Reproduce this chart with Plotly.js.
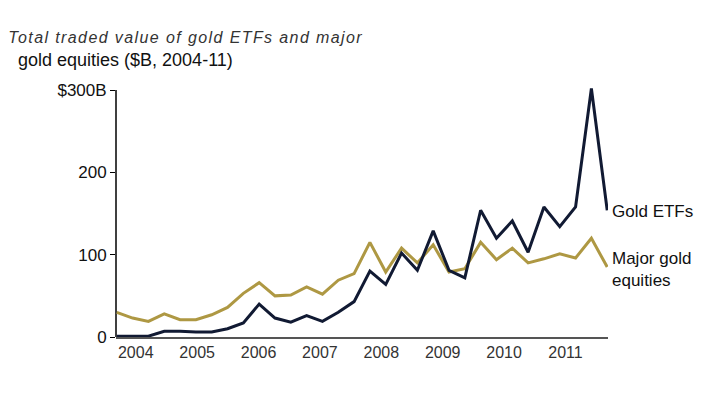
<!DOCTYPE html>
<html>
<head>
<meta charset="utf-8">
<script src="https://cdn.plot.ly/plotly-3.0.1.min.js"></script>
<style>
html,body{margin:0;padding:0;background:#fff;}
#chart{width:723px;height:395px;}
</style>
</head>
<body>
<div id="chart"></div>
<script>
// Quarterly data, 2004 Q1 - 2011 Q4 ($B)
const quarters = [
  '2004Q1','2004Q2','2004Q3','2004Q4','2005Q1','2005Q2','2005Q3','2005Q4',
  '2006Q1','2006Q2','2006Q3','2006Q4','2007Q1','2007Q2','2007Q3','2007Q4',
  '2008Q1','2008Q2','2008Q3','2008Q4','2009Q1','2009Q2','2009Q3','2009Q4',
  '2010Q1','2010Q2','2010Q3','2010Q4','2011Q1','2011Q2','2011Q3','2011Q4'
];
const goldETFs = [1, 1, 1, 7, 7, 6, 6, 10, 17, 40, 23, 18, 26, 19, 30, 43,
                  80, 64, 102, 81, 129, 81, 72, 154, 120, 141, 103, 158, 134, 158, 302, 154];
const goldEquities = [30, 23, 19, 28, 21, 21, 27, 36, 53, 66, 50, 51, 61, 52, 69, 77,
                      115, 79, 108, 90, 112, 79, 83, 115, 94, 108, 90, 95, 101, 96, 120, 85];
const yearLabels = ['2004','2005','2006','2007','2008','2009','2010','2011'];
const yTickVals = [0, 100, 200, 300];
const yTickText = ['0', '100', '200', '$300B'];

const xIdx = quarters.map((q, i) => i);
const yearTickPos = yearLabels.map((y, i) => 1.2 + 3.88 * i);

const traces = [
  {x: xIdx, y: goldEquities, type: 'scatter', mode: 'lines', name: 'Major gold equities',
   line: {color: '#ae9843', width: 3}, hoverinfo: 'skip'},
  {x: xIdx, y: goldETFs, type: 'scatter', mode: 'lines', name: 'Gold ETFs',
   line: {color: '#111a33', width: 3}, hoverinfo: 'skip'}
];

const layout = {
  width: 723, height: 395,
  margin: {l: 116, r: 115, t: 86, b: 58, pad: 0},
  paper_bgcolor: '#fff', plot_bgcolor: '#fff',
  showlegend: false,
  font: {family: 'Liberation Sans, Arial, sans-serif', color: '#111'},
  xaxis: {
    range: [-0.05, 31.05], showgrid: false, zeroline: false,
    showline: true, linecolor: '#555', linewidth: 2,
    ticks: '', tickmode: 'array', tickvals: yearTickPos, ticktext: yearLabels,
    tickfont: {size: 16, color: '#333'}, fixedrange: true
  },
  yaxis: {
    range: [0, 305], showgrid: false, zeroline: false,
    showline: false,
    ticks: 'outside', ticklen: 5, tickcolor: '#000', tickwidth: 1,
    tickmode: 'array', tickvals: yTickVals, ticktext: yTickText,
    tickfont: {size: 17, color: '#111'}, fixedrange: true
  },
  shapes: [
    {type: 'line', xref: 'paper', yref: 'y', x0: 0, x1: 0, y0: 0, y1: 300,
     line: {color: '#000', width: 1.5}, layer: 'below'}
  ],
  annotations: [
    {xref: 'paper', yref: 'paper', x: -0.165, y: 1.195, xanchor: 'left', yanchor: 'middle',
     showarrow: false, text: '<i>Total traded value of gold ETFs and major</i>',
     font: {size: 16, color: '#333'}},
    {xref: 'paper', yref: 'paper', x: -0.203, y: 1.1036, xanchor: 'left', yanchor: 'middle',
     showarrow: false, text: 'gold equities ($B, 2004-11)',
     font: {size: 18, color: '#111'}},
    {xref: 'paper', yref: 'y', x: 1.004, y: 152, xanchor: 'left', yanchor: 'middle',
     showarrow: false, text: 'Gold ETFs', font: {size: 17, color: '#111'}},
    {xref: 'paper', yref: 'y', x: 1.004, y: 82, xanchor: 'left', yanchor: 'middle', align: 'left',
     showarrow: false, text: 'Major gold<br>equities', font: {size: 17, color: '#111'}}
  ]
};

Plotly.newPlot('chart', traces, layout, {staticPlot: true, displayModeBar: false}).then(() => {
  const t = document.querySelectorAll('.annotation-text');
  if (t.length) t[0].style.letterSpacing = '1.4px';
});
</script>
</body>
</html>
